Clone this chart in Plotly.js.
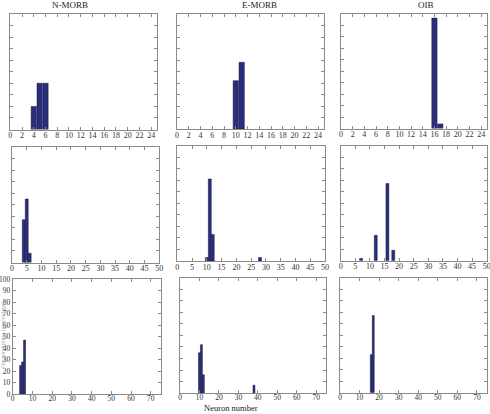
<!DOCTYPE html>
<html>
<head>
<meta charset="utf-8">
<script src="https://cdn.plot.ly/plotly-3.0.1.min.js"></script>
<style>
  html, body { margin: 0; padding: 0; background: #fff; }
  #chart { width: 490px; height: 414px; }
</style>
</head>
<body>
<div id="chart"></div>
<script>
// Neuron hit percentages for each rock group on three map sizes.
const groupNames = ['N-MORB', 'E-MORB', 'OIB'];

// 25-neuron map
const nmorbMap25Neuron = [4, 5, 6];
const nmorbMap25Pct    = [20, 40, 40];
const emorbMap25Neuron = [10, 11];
const emorbMap25Pct    = [42, 58];
const oibMap25Neuron   = [16, 17];
const oibMap25Pct      = [96, 4];

// 50-neuron map
const nmorbMap50Neuron = [4, 5, 6];
const nmorbMap50Pct    = [37, 55, 8];
const emorbMap50Neuron = [10, 11, 12, 28];
const emorbMap50Pct    = [3, 71, 23, 3];
const oibMap50Neuron   = [7, 12, 16, 18];
const oibMap50Pct      = [2, 22, 67, 9];

// 75-neuron map
const nmorbMap75Neuron = [4, 5, 6];
const nmorbMap75Pct    = [25, 28, 47];
const emorbMap75Neuron = [10, 11, 12, 38];
const emorbMap75Pct    = [35, 42, 16, 7];
const oibMap75Neuron   = [16, 17];
const oibMap75Pct      = [33, 67];

const xTitle = 'Neuron number';
const yTitle = 'Neuron hitting (percentage)';

const W = 490, H = 414;
const barColor = '#2b2e7a';
const axisGray = '#8a8a8a';
const serif = 'Liberation Serif, Times New Roman, serif';

// panel boxes in pixels: [left, right, top, bottom]
const boxes = [
  [10.3, 157, 14, 129.5], [177, 324, 14, 129], [341, 487, 13.5, 128.5],
  [12, 159.3, 147, 262.5], [177.3, 325, 145.5, 261], [340.7, 486.7, 145.5, 260.7],
  [12.7, 160.7, 279, 394.3], [180, 326, 277.5, 393.3], [340, 486.7, 277.5, 392.7]
];

const panels = [
  [nmorbMap25Neuron, nmorbMap25Pct], [emorbMap25Neuron, emorbMap25Pct], [oibMap25Neuron, oibMap25Pct],
  [nmorbMap50Neuron, nmorbMap50Pct], [emorbMap50Neuron, emorbMap50Pct], [oibMap50Neuron, oibMap50Pct],
  [nmorbMap75Neuron, nmorbMap75Pct], [emorbMap75Neuron, emorbMap75Pct], [oibMap75Neuron, oibMap75Pct]
];
const rowRange = [25, 50, 75];
const rowDtick = [2, 5, 10];
const barWidth = [0.9, 1, 1];

const traces = [];
const layout = {
  width: W, height: H,
  margin: {l: 0, r: 0, t: 0, b: 0},
  paper_bgcolor: '#fff', plot_bgcolor: '#fff',
  showlegend: false,
  bargap: 0,
  font: {family: serif, size: 8, color: '#333'},
  annotations: []
};

panels.forEach((p, i) => {
  const row = Math.floor(i / 3);
  const n = i + 1;
  const xa = n === 1 ? 'x' : 'x' + n;
  const ya = n === 1 ? 'y' : 'y' + n;
  traces.push({
    type: 'bar', x: p[0], y: p[1], xaxis: xa, yaxis: ya,
    width: barWidth[row],
    marker: {color: barColor, line: {color: '#15173f', width: 0.5}},
    hoverinfo: 'x+y'
  });
  const b = boxes[i];
  const common = {
    showline: true, mirror: 'ticks', linecolor: axisGray, linewidth: 1,
    ticks: 'inside', ticklen: 3, tickcolor: axisGray, tickwidth: 1,
    showgrid: false, zeroline: false, fixedrange: true,
    ticklabeloverflow: 'allow',
    tickfont: {family: serif, size: 8, color: '#333'}
  };
  layout[n === 1 ? 'xaxis' : 'xaxis' + n] = Object.assign({}, common, {
    domain: [b[0] / W, b[1] / W], anchor: ya,
    range: [0, rowRange[row]], tick0: 0, dtick: rowDtick[row],
    showticklabels: true,
    ticklabelstandoff: row === 2 ? -3 : -2,
    tickfont: {family: serif, size: row === 2 ? 7.5 : 8, color: '#333'}
  });
  layout[n === 1 ? 'yaxis' : 'yaxis' + n] = Object.assign({}, common, {
    domain: [1 - b[3] / H, 1 - b[2] / H], anchor: xa,
    range: [0, 100], tick0: 0, dtick: 10,
    showticklabels: i === 6,
    tickfont: {family: serif, size: 7.5, color: '#333'}
  });
});

// group names above the top row
const titleX = [70, 259, 426];
groupNames.forEach((g, k) => {
  layout.annotations.push({
    text: g, xref: 'paper', yref: 'paper',
    x: titleX[k] / W, y: 1 - 5.5 / H, xanchor: 'center', yanchor: 'middle',
    showarrow: false, font: {family: serif, size: 9, color: '#222'}
  });
});

layout.annotations.push({
  text: xTitle, xref: 'paper', yref: 'paper',
  x: 231 / W, y: 0, xanchor: 'center', yanchor: 'bottom', borderpad: 0,
  showarrow: false, font: {family: serif, size: 8.5, color: '#222'}
});
layout.annotations.push({
  text: yTitle, xref: 'paper', yref: 'paper',
  x: 3 / W, y: 1 - 335 / H, xanchor: 'center', yanchor: 'middle',
  textangle: -90, showarrow: false, font: {family: serif, size: 6, color: '#aaa'}
});

Plotly.newPlot('chart', traces, layout, {staticPlot: true, displayModeBar: false});
</script>
</body>
</html>
